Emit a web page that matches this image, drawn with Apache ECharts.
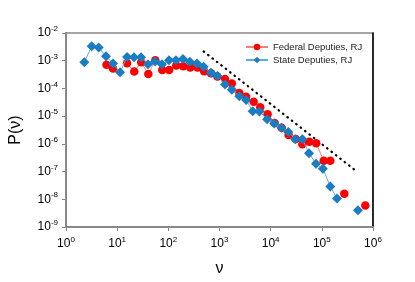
<!DOCTYPE html>
<html><head><meta charset="utf-8">
<script src="https://cdn.jsdelivr.net/npm/echarts@6/dist/echarts.min.js"></script>
<style>html,body{margin:0;padding:0;background:#fff}#c{width:415px;height:282px}</style>
</head><body><div id="c"></div>
<script>
const stateX = [2.28,3.18,4.35,6.05,8.3,11.4,15.6,21.3,29.2,40,55,75,103,141,193,264,363,490,682,912,1280,1740,2440,3310,4450,6030,8510,11750,16200,22100,30200,41700,56200,76900,104700,146600,197700,270000,372000,508000];
const stateY = [8.8e-4,3.3e-3,3.0e-3,1.45e-3,7.9e-4,3.8e-4,1.37e-3,1.33e-3,1.33e-3,7.5e-4,9.3e-4,7.5e-4,1.04e-3,1.04e-3,1.16e-3,9.1e-4,7.9e-4,6.0e-4,3.7e-4,2.8e-4,1.38e-4,8.9e-5,5.2e-5,3.8e-5,1.5e-5,1.48e-5,7.8e-6,5.4e-6,3.8e-6,2.7e-6,1.48e-6,1.48e-6,4.6e-7,1.9e-7,1.26e-7,2.9e-8,1.07e-8,null,null,4.0e-9];
const fedX = [6.2,8.3,11.4,15.6,21.6,29.6,40.6,55.6,76,104,143,195,269,370,500,682,912,1280,1740,2440,3310,4650,6260,8710,11970,16400,22400,30900,41700,56900,77600,108600,146600,200000,275000,376000,515000,708000];
const fedY = [7.2e-4,5.2e-4,null,8.1e-4,4.1e-4,8.8e-4,3.3e-4,1.04e-3,4.6e-4,4.6e-4,6.7e-4,6.3e-4,5.7e-4,5.7e-4,4.2e-4,3.5e-4,2.7e-4,2.2e-4,1.5e-4,6.8e-5,5.0e-5,3.3e-5,2.1e-5,1.18e-5,5.7e-6,3.8e-6,2.07e-6,1.49e-6,9.6e-7,1.2e-6,1.05e-6,2.45e-7,2.45e-7,null,1.58e-8,null,null,6.0e-9];
const guideX = [490, 447000];
const guideY = [2.16e-3, 1.12e-7];
const seriesNames = ['Federal Deputies, RJ', 'State Deputies, RJ'];

function pairs(xs, ys){ return xs.map((x,i)=>[x, ys[i]==null ? '-' : ys[i]]); }
function supLabel(v){
  const e = Math.round(Math.log10(v));
  return '{b|10}{e|' + e + '}';
}
const rich = {
  b: {fontSize: 12, fontFamily: 'Liberation Sans', color: '#000'},
  e: {fontSize: 8, fontFamily: 'Liberation Sans', color: '#000', padding: [0,0,8,0]}
};
const chart = echarts.init(document.getElementById('c'));
chart.setOption({
  animation: false,
  grid: {left: 65, right: 42, top: 33, bottom: 52, show: true, borderColor: '#888', borderWidth: 1.5},
  legend: {
    orient: 'vertical', left: 240, top: 37, itemGap: 3, itemWidth: 22, itemHeight: 8,
    textStyle: {fontSize: 9.5, fontFamily: 'Liberation Sans', color: '#222'},
    data: seriesNames
  },
  xAxis: {
    type: 'log', logBase: 10, min: 1, max: 1e6,
    name: 'ν', nameLocation: 'middle', nameGap: 34,
    nameTextStyle: {fontSize: 16, fontFamily: 'Liberation Sans', color: '#000'},
    axisLine: {lineStyle: {color: '#888', width: 2}},
    axisTick: {inside: false, length: 4, lineStyle: {color: '#888'}},
    axisLabel: {formatter: supLabel, rich: rich, margin: 9},
    splitLine: {show: false}, minorTick: {show: false}
  },
  yAxis: [{
    type: 'log', logBase: 10, min: 1e-9, max: 1e-2,
    name: 'P(ν)', nameLocation: 'middle', nameGap: 42,
    nameTextStyle: {fontSize: 16, fontFamily: 'Liberation Sans', color: '#000'},
    axisLine: {lineStyle: {color: '#888', width: 2}},
    axisTick: {inside: false, length: 4, lineStyle: {color: '#888'}},
    axisLabel: {formatter: supLabel, rich: rich, margin: 8},
    splitLine: {show: false}
  }, {
    type: 'log', logBase: 10, min: 1e-9, max: 1e-2, position: 'right',
    axisLine: {show: true, lineStyle: {color: '#000', width: 1.5}},
    axisTick: {show: false}, axisLabel: {show: false}, splitLine: {show: false}
  }],
  series: [
    {
      name: 'guide', type: 'line', data: pairs(guideX, guideY), symbol: 'none',
      lineStyle: {color: '#000', width: 2.2, type: [0.6, 5], cap: 'round'}, z: 1, silent: true
    },
    {
      name: seriesNames[0], type: 'line', data: pairs(fedX, fedY),
      symbol: 'circle', symbolSize: 8.5, connectNulls: false,
      itemStyle: {color: '#ff0000'}, lineStyle: {color: '#f08080', width: 1}, z: 3
    },
    {
      name: seriesNames[1], type: 'line', data: pairs(stateX, stateY),
      symbol: 'diamond', symbolSize: 10, connectNulls: false,
      itemStyle: {color: '#1a7cc1'}, lineStyle: {color: '#5aaee0', width: 1}, z: 4
    }
  ]
});
</script></body></html>
